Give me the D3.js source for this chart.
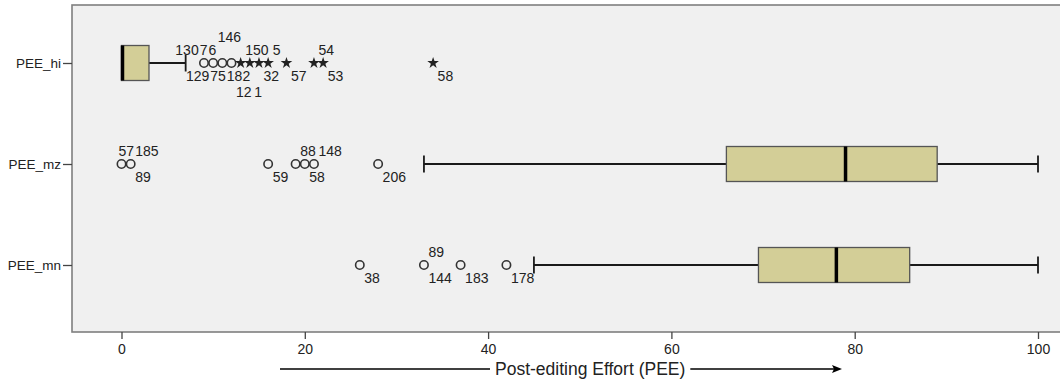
<!DOCTYPE html>
<html>
<head>
<meta charset="utf-8">
<script src="https://cdn.jsdelivr.net/npm/d3@7"></script>
<style>
  html, body { margin: 0; padding: 0; background: #ffffff; }
  svg { display: block; font-family: "Liberation Sans", Arial, sans-serif; }
</style>
</head>
<body>
<svg id="chart" width="1060" height="383"></svg>
<script>
// ---------- data ----------
const categories   = ["PEE_hi", "PEE_mz", "PEE_mn"];
const q1           = [0, 66, 69.5];
const median       = [0, 79, 78];
const q3           = [3, 89, 86];
const whiskerLow   = [0, 33, 45];
const whiskerHigh  = [7, 100, 100];

// outliers (circles) and extremes (stars) per category
const outliersHi   = [9, 10, 11, 12];
const extremesHi   = [13, 14, 15, 16, 18, 21, 22, 34];
const outliersMz   = [0, 1, 16, 19, 20, 21, 28];
const extremesMz   = [];
const outliersMn   = [26, 33, 37, 42];
const extremesMn   = [];

// case labels: id, value of labelled point, slot (-2/-1 above, 1/2 below)
const labelsHi = [
  {id: "146", v: 10, slot: -2},
  {id: "130", v: 9,  slot: -1}, {id: "7", v: 9, slot: -1}, {id: "6", v: 9, slot: -1},
  {id: "150", v: 13, slot: -1}, {id: "5", v: 16, slot: -1}, {id: "54", v: 21, slot: -1},
  {id: "129", v: 9,  slot: 1},  {id: "75", v: 10, slot: 1}, {id: "182", v: 11, slot: 1},
  {id: "32",  v: 15, slot: 1},  {id: "57", v: 18, slot: 1}, {id: "53", v: 22, slot: 1},
  {id: "58",  v: 34, slot: 1},
  {id: "12",  v: 12, slot: 2},  {id: "1", v: 14, slot: 2}
];
const labelsMz = [
  {id: "57", v: 0, slot: -1}, {id: "185", v: 1, slot: -1}, {id: "89", v: 1, slot: 1},
  {id: "59", v: 16, slot: 1}, {id: "88", v: 19, slot: -1}, {id: "148", v: 21, slot: -1},
  {id: "58", v: 20, slot: 1}, {id: "206", v: 28, slot: 1}
];
const labelsMn = [
  {id: "38", v: 26, slot: 1}, {id: "89", v: 33, slot: -1}, {id: "144", v: 33, slot: 1},
  {id: "183", v: 37, slot: 1}, {id: "178", v: 42, slot: 1}
];

const xTicks = [0, 20, 40, 60, 80, 100];
const xTitle = "Post-editing Effort (PEE)";

const outliers = [outliersHi, outliersMz, outliersMn];
const extremes = [extremesHi, extremesMz, extremesMn];
const labels   = [labelsHi, labelsMz, labelsMn];

// ---------- layout ----------
const svg = d3.select("#chart");
const frame = {left: 72, top: 5, right: 1066, bottom: 332};

const x = d3.scaleLinear().domain([0, 100]).range([121.5, 1038]);
const y = d3.scalePoint().domain(categories).range([63, 265]);

const boxH = 35;
const capH = 17;
const slotDy = {"-2": -26, "-1": -13, "1": 13, "2": 29};

// frame background
svg.append("rect")
  .attr("x", frame.left).attr("y", frame.top)
  .attr("width", frame.right - frame.left).attr("height", frame.bottom - frame.top)
  .attr("fill", "#f0f0f0").attr("stroke", "#7f7f7f").attr("stroke-width", 1.6);

// x axis
const xAxis = d3.axisBottom(x).tickValues(xTicks).tickSize(7).tickPadding(5).tickFormat(d3.format("d"));
const gx = svg.append("g").attr("transform", `translate(0,${frame.bottom})`).call(xAxis);
gx.select(".domain").remove();
gx.selectAll("line").attr("stroke", "#444").attr("stroke-width", 1.3);
gx.selectAll("text").attr("font-size", 14).attr("fill", "#222")
  .attr("font-family", '"Liberation Sans", Arial, sans-serif');

// y axis
const yAxis = d3.axisLeft(y).tickSize(9).tickPadding(2);
const gy = svg.append("g").attr("transform", `translate(${frame.left},0)`).call(yAxis);
gy.select(".domain").remove();
gy.selectAll("line").attr("stroke", "#444").attr("stroke-width", 1.3);
gy.selectAll("text").attr("font-size", 13.5).attr("fill", "#222")
  .attr("font-family", '"Liberation Sans", Arial, sans-serif');

// boxes
categories.forEach((c, i) => {
  const cy = y(c);
  const g = svg.append("g");
  // whiskers
  if (whiskerHigh[i] > q3[i]) {
    g.append("line").attr("x1", x(q3[i])).attr("x2", x(whiskerHigh[i]))
      .attr("y1", cy).attr("y2", cy).attr("stroke", "#1a1a1a").attr("stroke-width", 1.8);
    g.append("line").attr("x1", x(whiskerHigh[i])).attr("x2", x(whiskerHigh[i]))
      .attr("y1", cy - capH / 2).attr("y2", cy + capH / 2).attr("stroke", "#1a1a1a").attr("stroke-width", 1.8);
  }
  if (whiskerLow[i] < q1[i]) {
    g.append("line").attr("x1", x(whiskerLow[i])).attr("x2", x(q1[i]))
      .attr("y1", cy).attr("y2", cy).attr("stroke", "#1a1a1a").attr("stroke-width", 1.8);
    g.append("line").attr("x1", x(whiskerLow[i])).attr("x2", x(whiskerLow[i]))
      .attr("y1", cy - capH / 2).attr("y2", cy + capH / 2).attr("stroke", "#1a1a1a").attr("stroke-width", 1.8);
  }
  // box
  g.append("rect").attr("x", x(q1[i])).attr("y", cy - boxH / 2)
    .attr("width", x(q3[i]) - x(q1[i])).attr("height", boxH)
    .attr("fill", "#d3ce97").attr("stroke", "#555").attr("stroke-width", 1.3);
  // median
  const mx = x(median[i]) + (median[i] === q1[i] ? 1 : 0);
  g.append("line").attr("x1", mx).attr("x2", mx)
    .attr("y1", cy - boxH / 2).attr("y2", cy + boxH / 2)
    .attr("stroke", "#000").attr("stroke-width", 3.5);

  // outlier circles
  g.selectAll("circle.o").data(outliers[i]).enter().append("circle")
    .attr("cx", d => x(d)).attr("cy", cy).attr("r", 4.2)
    .attr("fill", "none").attr("stroke", "#333").attr("stroke-width", 1.6);
  // extremes stars
  const star = d3.symbol().type(d3.symbolStar).size(42);
  g.selectAll("path.s").data(extremes[i]).enter().append("path")
    .attr("d", star).attr("transform", d => `translate(${x(d)},${cy})`)
    .attr("fill", "#222");

  // labels with simple leftward collision avoidance per slot
  const texts = labels[i].map((l, k) => {
    const t = g.append("text").text(l.id)
      .attr("font-size", 14).attr("fill", "#222")
      .attr("dominant-baseline", "central")
      .attr("y", cy + slotDy[String(l.slot)]);
    return {l, k, t, w: t.node().getComputedTextLength(), want: x(l.v) + 4.5};
  });
  const slots = d3.group(texts, d => d.l.slot);
  for (const [, arr] of slots) {
    arr.sort((a, b) => a.l.v - b.l.v || a.k - b.k);
    let nextLeft = Infinity;
    for (let j = arr.length - 1; j >= 0; j--) {
      const d = arr[j];
      const pos = Math.min(d.want, nextLeft - 1 - d.w);
      d.t.attr("x", pos);
      nextLeft = pos;
    }
  }
});

// axis title with arrow
const titleY = 369;
const title = svg.append("text").text(xTitle)
  .attr("x", 495).attr("y", titleY).attr("dominant-baseline", "central")
  .attr("font-size", 17.5).attr("fill", "#222");
const tw = title.node().getComputedTextLength();
svg.append("line").attr("x1", 280).attr("x2", 490).attr("y1", titleY).attr("y2", titleY)
  .attr("stroke", "#000").attr("stroke-width", 1.5);
svg.append("line").attr("x1", 495 + tw + 5).attr("x2", 836).attr("y1", titleY).attr("y2", titleY)
  .attr("stroke", "#000").attr("stroke-width", 1.5);
svg.append("path").attr("d", `M842,${titleY} L832,${titleY - 4} L834,${titleY} L832,${titleY + 4} Z`)
  .attr("fill", "#000");
</script>
</body>
</html>
